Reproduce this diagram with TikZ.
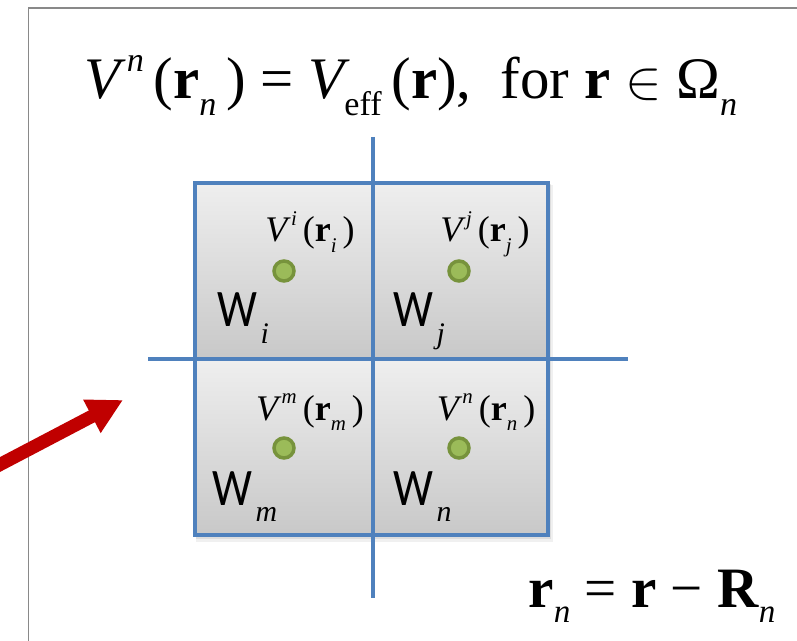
\documentclass[tikz,border=0pt]{standalone}
\usepackage{fontspec}
\usepackage{graphicx}
\usetikzlibrary{arrows.meta,calc}
\newfontfamily\wfont[FakeStretch=0.85]{Carlito}
\newfontfamily\tm{Liberation Serif}
\newcommand\Sup[1]{\kern0.1em\raisebox{0.46em}{\scalebox{0.58}{\itshape #1}}}
\newcommand\Sub[1]{\raisebox{-0.28em}{\scalebox{0.58}{\itshape #1}}}
\definecolor{GridClr}{HTML}{4F81BD}
\definecolor{DotClr}{HTML}{77933C}
\definecolor{DotFill}{HTML}{9BBB59}
\definecolor{ArrowClr}{HTML}{C00000}
\definecolor{FrameClr}{HTML}{898989}

\begin{document}
\begin{tikzpicture}[x=0.02cm,y=-0.02cm,
  cell/.style={top color=gray!13,bottom color=gray!43},
  dot/.style={circle,draw=DotClr,fill=DotFill,line width=2pt,minimum size=0.4cm,inner sep=0pt},
  pot/.style={anchor=base,inner sep=0pt,font=\tm\fontsize{20.5}{24}\selectfont},
  omega/.style={anchor=base west,inner sep=0pt,font=\wfont\fontsize{30}{34}\selectfont}]
\useasboundingbox (0,0) rectangle (797,641);

% frame and grid points
\coordinate (F1) at (28.5,660); \coordinate (F2) at (28.5,8); \coordinate (F3) at (810,8);
\coordinate (A) at (195,183); \coordinate (B) at (548,535); \coordinate (O) at (373,359);
\coordinate (T) at (373,137); \coordinate (D) at (373,598);
\coordinate (L) at (148,359); \coordinate (R) at (628,359);
\coordinate (S) at (-20,475); \coordinate (P) at (123,400);

\draw[FrameClr,line width=1.1pt] (F1) -- (F2) -- (F3);

% cells
\fill[black,opacity=.06] ($(A)+(1,2)$) rectangle ($(B)+(5,7)$);
\fill[black,opacity=.08] ($(A)+(1,1)$) rectangle ($(B)+(3,4)$);
\shade[cell] (A) rectangle (O);
\shade[cell] (O|-A) rectangle (B|-O);
\shade[cell] (A|-O) rectangle (O|-B);
\shade[cell] (O) rectangle (B);
\draw[GridClr,line width=2.3pt] (A) rectangle (B);
\draw[GridClr,line width=2.3pt] (T) -- (D);
\draw[GridClr,line width=2.3pt] (L) -- (R);

\draw[ArrowClr,line width=7.5pt,-{Triangle[length=20pt,width=20pt]}] (S) -- (P);

% potentials
\node[dot] (di) at (284,271) {};
\node[dot] (dj) at (459,271) {};
\node[dot] (dm) at (284,448) {};
\node[dot] (dn) at (459,448) {};
\node[pot] (vi) at (310,242) {{\itshape V}\Sup{i}\,(\textbf{r}\Sub{i}\,)};
\node[pot] (vj) at (485,242) {{\itshape V}\Sup{j}\,(\textbf{r}\Sub{j}\,)};
\node[pot] (vm) at (310,420) {{\itshape V}\Sup{m}\,(\textbf{r}\Sub{m}\,)};
\node[pot] (vn) at (486,420) {{\itshape V}\Sup{n}\,(\textbf{r}\Sub{n}\,)};

\node[omega] (wi) at (217,327) {W\kern2pt\raisebox{-9.5pt}{\tm\itshape\fontsize{17}{20}\selectfont i}};
\node[omega] (wj) at (393,327) {W\kern2pt\raisebox{-9.5pt}{\tm\itshape\fontsize{17}{20}\selectfont j}};
\node[omega] (wm) at (212,505) {W\kern2pt\raisebox{-9.5pt}{\tm\itshape\fontsize{17}{20}\selectfont m}};
\node[omega] (wn) at (393,505) {W\kern2pt\raisebox{-9.5pt}{\tm\itshape\fontsize{17}{20}\selectfont n}};

\node[anchor=base,inner sep=0pt,font=\tm\fontsize{33.5}{40}\selectfont] (title) at (411,99)
  {{\itshape V}\Sup{n}\,(\textbf{r}\Sub{n}\,) = {\itshape V}\Sub{\upshape eff}\,(\textbf{r}),\ \ for \textbf{r} \scalebox{1.25}{$\in$} Ω\Sub{n}};
\node[anchor=base,inner sep=0pt,font=\tm\fontsize{32.5}{38}\selectfont] (rel) at (652,607)
  {\textbf{r}\Sub{n} = \textbf{r} − \textbf{R}\Sub{n}};

\end{tikzpicture}
\end{document}
